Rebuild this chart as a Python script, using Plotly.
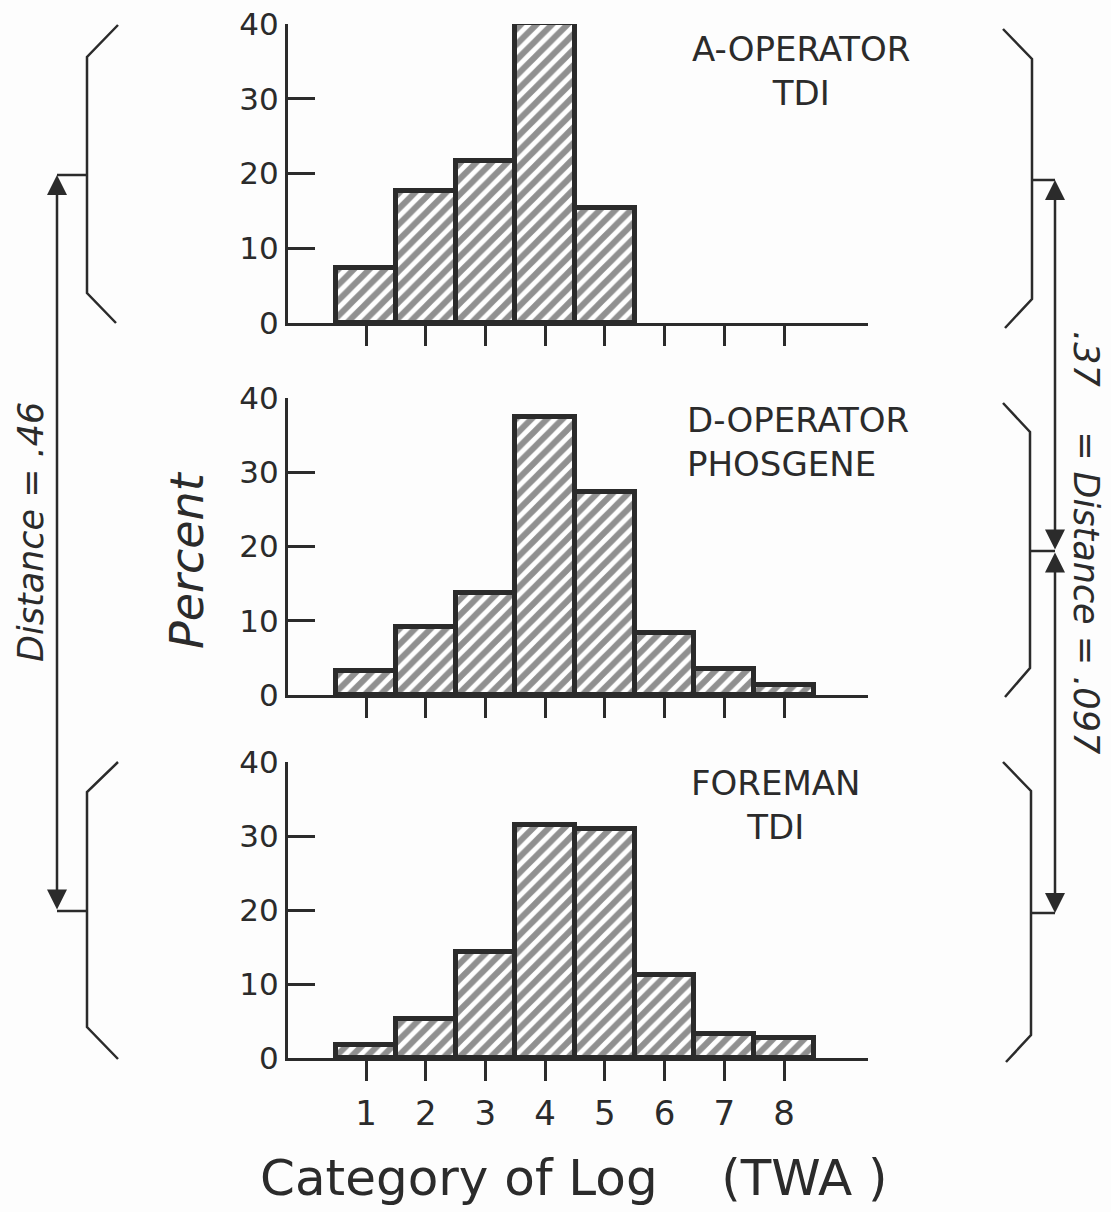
import plotly.graph_objects as go

W, H = 1111, 1212

categories = [1, 2, 3, 4, 5, 6, 7, 8]
a_operator_tdi = [7.3, 17.6, 21.7, 40.1, 15.4, 0, 0, 0]
d_operator_phosgene = [3.3, 9.1, 13.8, 37.5, 27.4, 8.4, 3.5, 1.3]
foreman_tdi = [1.7, 5.3, 14.3, 31.5, 30.9, 11.2, 3.3, 2.7]
y_ticks = [0, 10, 20, 30, 40]
panel_labels = ["A-OPERATOR<br>TDI", "D-OPERATOR<br>PHOSGENE", "FOREMAN<br>TDI"]

INK = "#2b2b2b"
FONT = "DejaVu Sans"


def px(x, y):
    return x / W, 1 - y / H


# panel pixel geometry: (top of 40, bottom at 0)
panels = [(24, 323), (398, 695), (762, 1058)]
x_left, x_right = 288, 868
series = [a_operator_tdi, d_operator_phosgene, foreman_tdi]

fig = go.Figure()
for i, (vals, (top, bot)) in enumerate(zip(series, panels)):
    sfx = "" if i == 0 else str(i + 1)
    yv = [v if v > 0 else None for v in vals]
    fig.add_trace(go.Bar(
        x=categories, y=yv, width=1.0,
        xaxis="x" + sfx, yaxis="y" + sfx,
        cliponaxis=False,
        marker=dict(color="white",
                    line=dict(color=INK, width=5),
                    pattern=dict(shape="/", fgcolor="#222222", bgcolor="white",
                                 size=11, solidity=0.55)),
        showlegend=False, hoverinfo="x+y",
    ))
    sp = (784 - 366) / 7
    xr = [1 - (366 - x_left) / sp, 1 + (x_right - 366) / sp]
    fig.layout["xaxis" + sfx] = dict(
        domain=[x_left / W, x_right / W], range=xr, anchor="y" + sfx,
        automargin=False, fixedrange=True,
        showline=True, linecolor=INK, linewidth=3, showgrid=False, zeroline=False,
        ticks="outside", ticklen=20, tickwidth=3, tickcolor=INK,
        tickvals=categories, ticktext=[str(c) for c in categories],
        showticklabels=(i == 2), ticklabelstandoff=3,
        tickfont=dict(family=FONT, size=34, color=INK),
    )
    fig.layout["yaxis" + sfx] = dict(
        domain=[1 - bot / H, 1 - top / H], range=[0, 40], anchor="x" + sfx,
        automargin=False, fixedrange=True,
        showline=True, linecolor=INK, linewidth=3, showgrid=False, zeroline=False,
        ticks="inside", ticklen=27, tickwidth=3, tickcolor=INK,
        tickvals=y_ticks, ticktext=[str(v) for v in y_ticks],
        tickfont=dict(family=FONT, size=31, color=INK),
    )

annotations = []
lab_pos = [(801, 71, "center"), (685, 442, "left"), (775, 805, "center")]
for txt, (cx, cy, al) in zip(panel_labels, lab_pos):
    xx, yy = px(cx, cy)
    annotations.append(dict(text=txt, x=xx, y=yy, xref="paper", yref="paper",
                            xanchor="center" if al == "center" else "left",
                            yanchor="middle", align=al, showarrow=False,
                            font=dict(family=FONT, size=34, color=INK)))


def label(text, cx, cy, size, angle=0):
    xx, yy = px(cx, cy)
    annotations.append(dict(text=text, x=xx, y=yy, xref="paper", yref="paper",
                            xanchor="center", yanchor="middle", showarrow=False,
                            textangle=angle, font=dict(family=FONT, size=size, color=INK)))


label("Category of Log\u00a0\u00a0\u00a0\u00a0(TWA\u00a0)", 574, 1178, 50)
label("<i>Percent</i>", 187, 560, 46, -90)
label("<i>Distance = .46</i>", 31, 532, 35, -90)
label("<i>.37\u00a0\u00a0\u00a0\u00a0= Distance = .097</i>", 1086, 542, 35, 90)


def arrow(x, y_head, y_tail):
    hx, hy = px(x, y_head)
    annotations.append(dict(text="", x=hx, y=hy, xref="paper", yref="paper",
                            ax=0, ay=y_tail - y_head, axref="pixel", ayref="pixel",
                            showarrow=True, arrowhead=2, arrowsize=1.6, arrowwidth=2.5,
                            arrowcolor=INK, arrowside="end+start", standoff=0, startstandoff=0))


arrow(57, 175, 911)
arrow(1055, 180, 551)
arrow(1055, 913, 551)

fig.update_layout(annotations=annotations)


def path(points):
    s = ""
    for k, (x, y) in enumerate(points):
        X, Y = px(x, y)
        s += ("M" if k == 0 else "L") + f"{X:.5f},{Y:.5f} "
    return s


shapes = []
brackets = [
    [(118, 25), (87, 57), (87, 293), (116, 323)],
    [(118, 762), (87, 792), (87, 1027), (118, 1059)],
    [(1003, 29), (1032, 59), (1032, 299), (1005, 328)],
    [(1003, 403), (1030, 432), (1030, 668), (1005, 697)],
    [(1003, 762), (1031, 791), (1031, 1035), (1006, 1062)],
]
stubs = [
    [(87, 175), (57, 175)],
    [(87, 911), (57, 911)],
    [(1032, 180), (1055, 180)],
    [(1030, 551), (1055, 551)],
    [(1031, 913), (1055, 913)],
]
for b in brackets + stubs:
    shapes.append(dict(type="path", path=path(b), xref="paper", yref="paper",
                       line=dict(color=INK, width=2.5)))
fig.update_layout(shapes=shapes)

fig.update_layout(width=W, height=H, autosize=False,
                  margin=dict(l=0, r=0, t=0, b=0, pad=0, autoexpand=False),
                  paper_bgcolor="#fdfdfd", plot_bgcolor="rgba(0,0,0,0)",
                  bargap=0)

fig.write_html("out.html")
